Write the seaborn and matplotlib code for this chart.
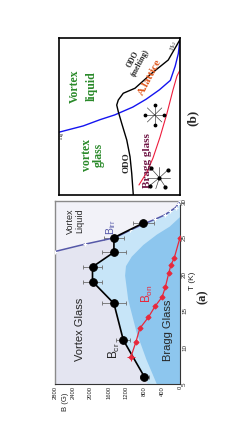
import matplotlib
matplotlib.use("Agg")
import matplotlib.pyplot as plt
import seaborn as sns

# 图 (a)：B-T 相图（读图估计，整张图逆时针旋转 90 度）
cr_T = [6, 11, 16, 19, 21, 23, 25, 27]
cr_B = [800, 1270, 1480, 1960, 1960, 1480, 1480, 820]
cr_err = [100, 160, 260, 220, 220, 260, 230, 230]

on_T = [8.7, 10.7, 12.6, 14.1, 15.6, 16.9, 18.2, 20.2, 21.3, 22.2, 25.0]
on_B = [1100, 990, 900, 710, 560, 400, 330, 250, 200, 130, 0]

irr_T = [23.1, 24.1, 25.0, 26.0, 26.9, 27.5, 28.1, 28.6, 29.1, 29.6, 30.0]
irr_B = [2800, 2130, 1450, 1120, 800, 560, 340, 220, 100, 40, 0]

# 浅蓝区域在 T=5 处的起点，深蓝区域（Bragg Glass）的边界
lb_start_T = [5, 5]
lb_start_B = [0, 720]
bg_T = [5, 8.3, 12, 16.5, 19.8, 21.1, 22.4, 24, 25.4, 26.5, 27.8, 5]
bg_B = [520, 750, 970, 1160, 1230, 1210, 1080, 820, 520, 230, 0, 0]

B_ticks = [0, 400, 800, 1200, 1600, 2000, 2400, 2800]
T_ticks = [5, 10, 15, 20, 25, 30]

# 图 (b)：示意图（归一化坐标，u 对应 B，v 对应 T）
hg_u = [1.0, 0.80, 0.66, 0.54, 0.39, 0.28, 0.17, 0.08, 0.04, 0.014, 0.0]
hg_v = [0.40, 0.44, 0.48, 0.51, 0.56, 0.61, 0.67, 0.73, 0.82, 0.90, 0.99]

odo_u = [0.386, 0.399, 0.413, 0.440, 0.482, 0.510, 0.523, 0.510, 0.469, 0.372, 0.234, 0.097, 0.0]
odo_v = [0.0, 0.138, 0.244, 0.350, 0.457, 0.531, 0.573, 0.605, 0.648, 0.680, 0.775, 0.860, 0.99]

bragg_u = [0.339, 0.273, 0.223, 0.165, 0.107, 0.058, 0.025, 0.0]
bragg_v = [0.064, 0.146, 0.236, 0.369, 0.522, 0.669, 0.758, 0.796]

# 两个小晶格示意图
star_c = (0.21, 0.51)
star_du = [0.08, 0.06, 0.0, -0.06, -0.08, -0.06, 0.0, 0.06]
star_dv = [0.0, 0.045, 0.065, 0.045, 0.0, -0.045, -0.065, -0.045]
latt_c = (0.17, 0.11)
latt_du = [0.10, 0.07, 0.0, -0.07, -0.09, -0.05, 0.03, 0.08]
latt_dv = [0.0, 0.06, 0.07, 0.05, 0.0, -0.06, -0.07, -0.05]

sns.set_style("white")
plt.rcParams['font.family'] = ['Liberation Sans', 'DejaVu Sans']
plt.rcParams['mathtext.default'] = 'regular'
serif = ['Liberation Serif', 'DejaVu Serif']

fig = plt.figure(figsize=(2.49, 4.36), dpi=100)

# ==================== 图 (a) ====================
ax = fig.add_axes([55 / 249, 52 / 436, 125 / 249, 183 / 436])
ax.set_facecolor('#e4e5f1')

ax.fill_betweenx(irr_T, irr_B, 2800, color='#f2f2f8', lw=0)
lb_B = lb_start_B + cr_B[:7] + [b for t, b in zip(irr_T, irr_B) if t > 25]
lb_T = lb_start_T + cr_T[:7] + [t for t in irr_T if t > 25]
ax.fill(lb_B, lb_T, color='#c7e5f8', lw=0)
ax.fill(bg_B, bg_T, color='#8dc6ee', lw=0)

ax.errorbar(cr_B, cr_T, xerr=cr_err, fmt='none', ecolor='#6d6d6d',
            elinewidth=0.6, capsize=1.5, capthick=0.6, zorder=3)
sns.lineplot(x=irr_B, y=irr_T, sort=False, estimator=None, color='#5558a8',
             lw=1.1, marker='+', ms=3.5, mew=0.8, ax=ax, zorder=4)
sns.lineplot(x=cr_B, y=cr_T, sort=False, estimator=None, color='black',
             lw=1.2, marker='o', ms=5.5, mec='black', ax=ax, zorder=5)
ax.errorbar(on_B[:1], on_T[:1], xerr=[90], yerr=[0.5], fmt='none',
            ecolor='#e8283c', elinewidth=0.7, zorder=5)
sns.lineplot(x=on_B, y=on_T, sort=False, estimator=None, color='#e8283c',
             lw=0.9, marker='D', ms=2.6, mec='#e8283c', ax=ax, zorder=6)

ax.set_xlim(2800, 0)
ax.set_ylim(5, 30)
ax.set_xticks(B_ticks)
ax.set_xticklabels([str(b) for b in B_ticks], rotation=90, fontsize=4.2)
ax.set_xticks(range(0, 2801, 100), minor=True)
ax.yaxis.tick_right()
ax.set_yticks(T_ticks)
ax.set_yticklabels([str(t) for t in T_ticks], rotation=90, fontsize=4.5, va='center')
ax.tick_params(which='major', direction='in', length=2.5, width=0.6, pad=1.5)
ax.tick_params(which='minor', direction='in', length=1.2, width=0.4)
ax.set_xlabel('')
ax.set_ylabel('')
for side in ['left', 'top']:
    ax.spines[side].set_color('#8a8a8a')
    ax.spines[side].set_linewidth(1.0)
for side in ['right', 'bottom']:
    ax.spines[side].set_color('#333333')
    ax.spines[side].set_linewidth(0.8)

ax.text(2240, 12.4, 'Vortex Glass', rotation=90, fontsize=8, ha='center', va='center')
ax.text(2360, 27.3, 'Vortex\nLiquid', rotation=90, fontsize=6.5, ha='center',
        va='center', linespacing=1.05)
ax.text(1540, 26.4, 'B$_{irr}$', rotation=90, fontsize=7.5, color='#5558a8',
        ha='center', va='center')
ax.text(1470, 9.6, 'B$_{cr}$', rotation=90, fontsize=8.5, ha='center', va='center')
ax.text(720, 17.4, 'B$_{on}$', rotation=90, fontsize=8.5, color='#e8283c',
        ha='center', va='center')
ax.text(270, 12.4, 'Bragg Glass', rotation=90, fontsize=8, ha='center', va='center')

fig.text(65 / 249, 1 - 402 / 436, 'B (G)', rotation=90, fontsize=5.5, ha='center', va='center')
fig.text(192 / 249, 1 - 281 / 436, 'T (K)', rotation=90, fontsize=6, ha='center', va='center')
fig.text(203 / 249, 1 - 297 / 436, '(a)', rotation=90, fontsize=9, fontweight='bold',
         family=serif, ha='center', va='center')

# ==================== 图 (b) ====================
bx = fig.add_axes([59 / 249, 241 / 436, 121 / 249, 157 / 436])
bx.set_facecolor('white')
sns.lineplot(x=hg_u, y=hg_v, sort=False, estimator=None, color='#1414f0', lw=1.0, ax=bx)
sns.lineplot(x=odo_u, y=odo_v, sort=False, estimator=None, color='black', lw=1.0, ax=bx)
sns.lineplot(x=bragg_u, y=bragg_v, sort=False, estimator=None, color='#ee1c3c', lw=0.8, ax=bx)

for du, dv in zip(star_du, star_dv):
    bx.plot([star_c[0], star_c[0] + du], [star_c[1], star_c[1] + dv],
            color='#333333', lw=0.45)
bx.scatter([star_c[0] + d for d in star_du[::2]], [star_c[1] + d for d in star_dv[::2]],
           s=3, color='black', zorder=5)
for du, dv in zip(latt_du, latt_dv):
    bx.plot([latt_c[0], latt_c[0] + du], [latt_c[1], latt_c[1] + dv],
            color='#333333', lw=0.45)
bx.scatter([latt_c[0]] + [latt_c[0] + d for d in latt_du[1::2]],
           [latt_c[1]] + [latt_c[1] + d for d in latt_dv[1::2]],
           s=4, color='black', zorder=5)

bx.set_xlim(1, 0)
bx.set_ylim(0, 1)
bx.set_xticks([])
bx.set_yticks([])
bx.set_xlabel('')
bx.set_ylabel('')
for side in bx.spines.values():
    side.set_color('black')
    side.set_linewidth(1.2)

green = '#2a8a2a'
bx.text(0.80, 0.695, 'Vortex\nliquid', rotation=90, fontsize=8.5, fontweight='bold',
        family=serif, color=green, ha='center', va='center', linespacing=1.6)
bx.text(0.72, 0.255, 'vortex\nglass', rotation=90, fontsize=8.5, fontweight='bold',
        family=serif, color=green, ha='center', va='center', linespacing=1.0)
bx.text(0.265, 0.22, 'Bragg glass', rotation=90, fontsize=8, fontweight='bold',
        family=serif, color='#6e1444', ha='center', va='center')
bx.text(0.44, 0.205, 'ODO', rotation=90, fontsize=6.5, fontweight='bold',
        family=serif, ha='center', va='center')
bx.text(0.36, 0.85, 'ODO\n(melting)', rotation=62, fontsize=5.5, fontweight='bold',
        family=serif, ha='center', va='center', linespacing=1.0)
bx.text(0.25, 0.75, 'A.lattice', rotation=62, fontsize=8, fontweight='bold',
        family=serif, color='#e0561c', ha='center', va='center')
bx.text(0.965, 0.375, 'H$_g$', rotation=90, fontsize=4.5, family=serif,
        ha='center', va='center')
bx.text(0.05, 0.955, 'H$_{c2}$', rotation=70, fontsize=4.5, family=serif,
        ha='center', va='center')

fig.text(193 / 249, 1 - 118 / 436, '(b)', rotation=90, fontsize=9.5, fontweight='bold',
         family=serif, ha='center', va='center')

fig.savefig('out.png', dpi=100)
